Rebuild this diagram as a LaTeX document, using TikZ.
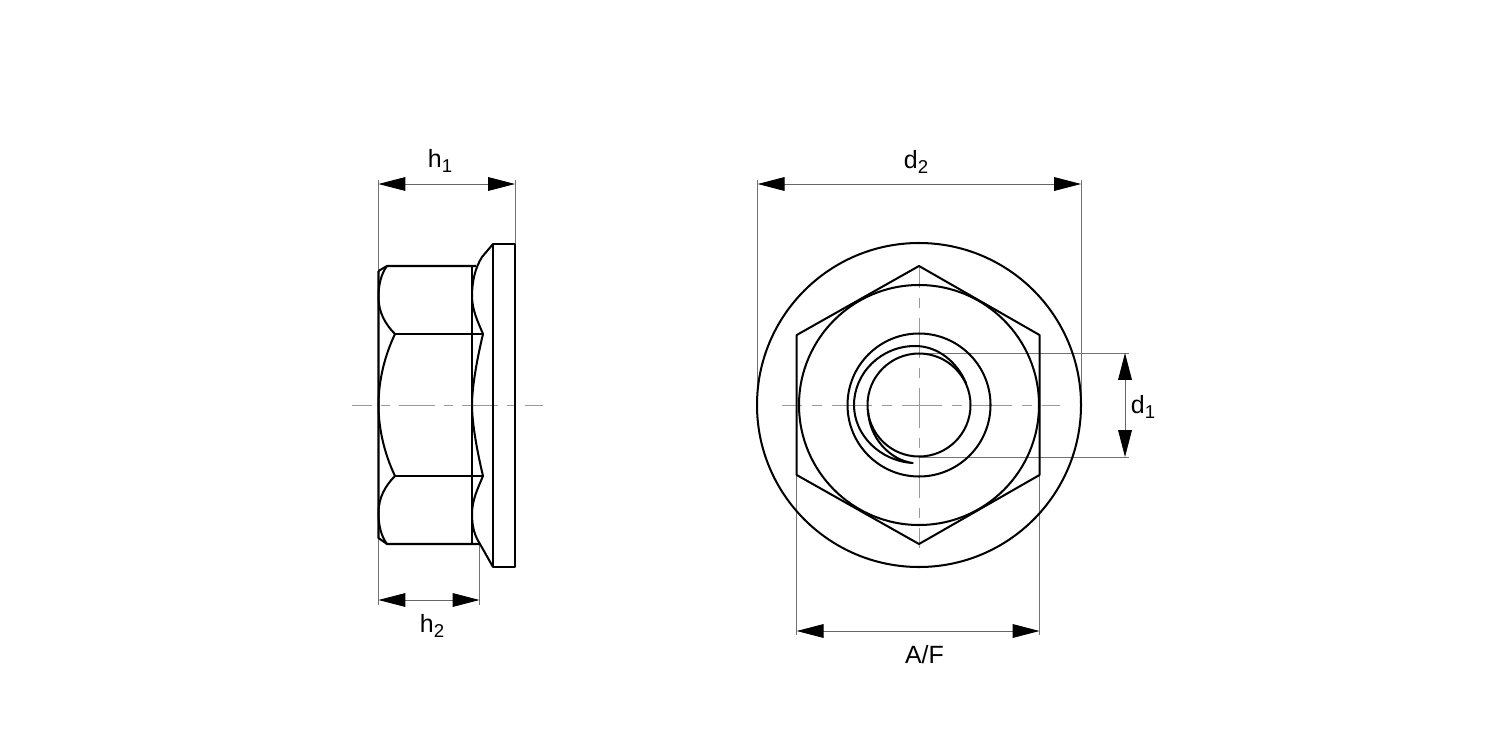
\documentclass[tikz,border=0pt]{standalone}
\usepackage{fontspec}
\setmainfont{Liberation Sans}
\usetikzlibrary{arrows.meta}
\newcommand{\DimSub}[1]{\raisebox{-3.4pt}{\fontsize{10.6}{10.6}\selectfont #1}}
\tikzset{
	part/.style={line width=1.15pt, black, line join=round},
	thin line/.style={line width=0.5pt, black!55},
	dim line/.style={line width=0.5pt, black!60, {Triangle[length=15.3pt,width=7.8pt,black]}-{Triangle[length=15.3pt,width=7.8pt,black]}},
	axis/.style={line width=0.55pt, black!40, dash pattern=on 0.8cm off 0.2cm on 0.2cm off 0.2cm},
	side axis/.style={line width=0.55pt, black!40, dash pattern=on 0.72cm off 0.18cm on 0.18cm off 0.18cm},
	dim label/.style={anchor=base, inner sep=0pt, font=\fontsize{14.2}{14.2}\selectfont}
}
\begin{document}
\begin{tikzpicture}[x=0.02cm, y=-0.02cm]
	\useasboundingbox (0,0) rectangle (1500,750);

	% Define points
	\coordinate (C) at (919,405);
	\coordinate (h1L) at (378.5,184);
	\coordinate (h1R) at (515,184);
	\coordinate (h2L) at (378.5,600);
	\coordinate (h2R) at (479.5,600);
	\coordinate (d2L) at (757.7,184);
	\coordinate (d2R) at (1081,184);
	\coordinate (AFL) at (796.7,631);
	\coordinate (AFR) at (1039.5,631);
	\coordinate (d1T) at (1125,353);
	\coordinate (d1B) at (1125,457);

	% Center lines
	\draw[side axis, dash phase=0.32cm] (352,405) -- (543,405);
	\draw[axis, dash phase=0.4cm] (782,405) -- (1060,405);
	\draw[axis, dash phase=0.34cm] (919,265) -- (919,548);

	% Extension lines
	\draw[thin line] (378.5,180) -- (378.5,271);
	\draw[thin line] (515,180) -- (515,244);
	\draw[thin line] (378.5,538) -- (378.5,605);
	\draw[thin line] (479.5,544) -- (479.5,605);
	\draw[thin line] (757.7,180) -- (C -| d2L);
	\draw[thin line] (1081,180) -- (C -| d2R);
	\draw[thin line] (796.7,475) -- (796.7,635);
	\draw[thin line] (1039.5,475) -- (1039.5,635);
	\draw[thin line] (919,353) -- (1129,353);
	\draw[thin line] (919,457) -- (1129,457);

	% Side view
	\draw[part] (378.5,271) -- (378.5,538) -- (387,544) -- (480,544);
	\draw[part] (378.5,271) -- (387,266) -- (476,266);
	\draw[part] (471.7,266) -- (471.7,544);
	\draw[part] (395,334) -- (483,334);
	\draw[part] (395,476) -- (483,476);
	\draw[part] (493,244) rectangle (515,567);
	\draw[part] (387,266) .. controls (381,274) and (378.5,285) .. (378.5,297)
		.. controls (378.5,312) and (385,324) .. (395,334)
		.. controls (385,355) and (378.5,380) .. (378.5,405)
		.. controls (378.5,430) and (385,455) .. (395,476)
		.. controls (385,486) and (378.5,498) .. (378.5,513)
		.. controls (378.5,525) and (381,536) .. (387,544);
	\draw[part] (493,244) -- (482,257) .. controls (475,268) and (472,282) .. (472,296)
		.. controls (472,310) and (478,322) .. (483,334)
		.. controls (478,355) and (472,385) .. (472,405)
		.. controls (472,425) and (478,455) .. (483,476)
		.. controls (478,488) and (472,500) .. (472,514)
		.. controls (472,528) and (475,536) .. (480,544) -- (493,567);

	% Front view
	\draw[part] (C) circle (162);
	\draw[part] (C) circle (120);
	\draw[part] (C) circle (71.5);
	\draw[part] (C) circle (51.5);
	\draw[part] (919,266) -- (1039.5,335) -- (1039.5,475) -- (919,544) -- (796.7,475) -- (796.7,335) -- cycle;
	\draw[part] (966,383) .. controls (957,362) and (938,346) .. (915,346)
		.. controls (881,346) and (854,373) .. (854,405)
		.. controls (854,435) and (880,461) .. (912.7,463)
		.. controls (890,460) and (869,438) .. (868,410);

	% Dimensions
	\draw[dim line] (h1L) -- (h1R);
	\draw[dim line] (h2L) -- (h2R);
	\draw[dim line] (d2L) -- (d2R);
	\draw[dim line] (AFL) -- (AFR);
	\draw[dim line] (d1T) -- (d1B);

	% Labels
	\node[dim label] (h1) at (440,167) {h\DimSub{1}};
	\node[dim label] (h2) at (432,632) {h\DimSub{2}};
	\node[dim label] (d2) at (916,168) {d\DimSub{2}};
	\node[dim label] (AF) at (924.5,663) {A/F};
	\node[dim label] (d1) at (1143,413) {d\DimSub{1}};
\end{tikzpicture}
\end{document}
